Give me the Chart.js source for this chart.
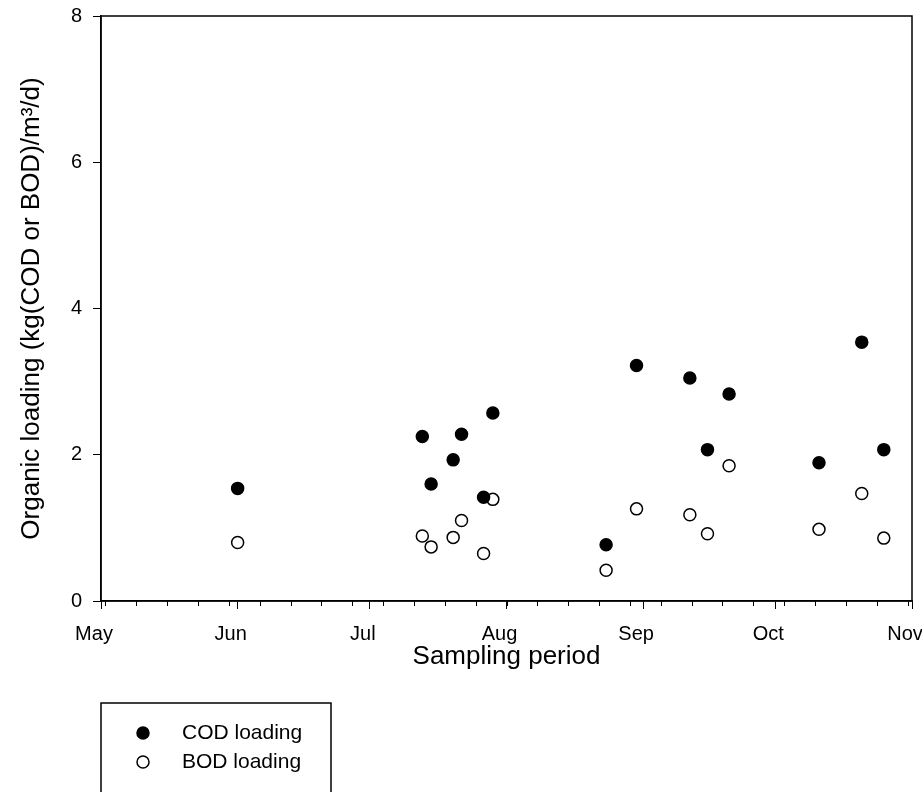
<!DOCTYPE html>
<html>
<head>
<meta charset="utf-8">
<script src="https://cdn.jsdelivr.net/npm/chart.js@4.4.1/dist/chart.umd.min.js"></script>
<style>
  html, body { margin: 0; padding: 0; background: #fff; }
  #chart { display: block; }
</style>
</head>
<body>
<canvas id="chart" width="922" height="792"></canvas>
<script>
// days counted from May 1
const sampleDays = [31.0, 72.9, 74.9, 79.9, 81.8, 86.8, 88.9, 114.6, 121.5, 133.6, 137.6, 142.5, 162.9, 172.6, 177.6];
const codLoading = [1.54, 2.25, 1.60, 1.93, 2.28, 1.42, 2.57, 0.77, 3.22, 3.05, 2.07, 2.83, 1.89, 3.54, 2.07];
const bodLoading = [0.80, 0.89, 0.74, 0.87, 1.10, 0.65, 1.39, 0.42, 1.26, 1.18, 0.92, 1.85, 0.98, 1.47, 0.86];

const monthLabels = ['May', 'Jun', 'Jul', 'Aug', 'Sep', 'Oct', 'Nov'];
const monthStarts = [0, 31, 61, 92, 123, 153, 184];
const yTicks = [0, 2, 4, 6, 8];
const firstWeekTick = 1;

const FONT = 'Liberation Sans, Arial, sans-serif';

const toPoints = (vals) => sampleDays.map((d, i) => ({ x: d, y: vals[i] }));

const framePlugin = {
  id: 'frame',
  afterDraw(chart) {
    const { ctx, chartArea: a, scales } = chart;
    const x = scales.x;
    ctx.save();
    ctx.strokeStyle = '#000';
    ctx.lineWidth = 1.5;
    ctx.strokeRect(a.left, a.top, a.right - a.left, a.bottom - a.top);

    // weekly minor ticks
    ctx.lineWidth = 1;
    ctx.beginPath();
    for (let d = firstWeekTick; d <= x.max; d += 7) {
      const px = Math.round(x.getPixelForValue(d)) + 0.5;
      ctx.moveTo(px, a.bottom);
      ctx.lineTo(px, a.bottom + 5);
    }
    ctx.stroke();

    // axis titles
    ctx.fillStyle = '#000';
    ctx.textAlign = 'center';
    ctx.textBaseline = 'middle';
    ctx.font = '26px ' + FONT;
    ctx.fillText('Sampling period', (a.left + a.right) / 2, 657);
    ctx.translate(32, (a.top + a.bottom) / 2);
    ctx.rotate(-Math.PI / 2);
    ctx.fillText('Organic loading (kg(COD or BOD)/m³/d)', 0, 0);
    ctx.restore();

    // legend
    ctx.save();
    ctx.strokeStyle = '#000';
    ctx.lineWidth = 1.5;
    ctx.strokeRect(101, 703, 230, 120);
    ctx.font = '21px ' + FONT;
    ctx.textBaseline = 'middle';
    ctx.textAlign = 'left';
    chart.data.datasets.forEach((ds, i) => {
      const cy = 733 + i * 29;
      ctx.beginPath();
      ctx.arc(143, cy, ds.pointRadius, 0, Math.PI * 2);
      ctx.fillStyle = ds.pointBackgroundColor;
      ctx.fill();
      ctx.lineWidth = ds.pointBorderWidth;
      ctx.strokeStyle = ds.pointBorderColor;
      ctx.stroke();
      ctx.fillStyle = '#000';
      ctx.fillText(ds.label, 182, cy);
    });
    ctx.restore();
  }
};

new Chart(document.getElementById('chart'), {
  type: 'scatter',
  data: {
    datasets: [
      {
        label: 'COD loading',
        data: toPoints(codLoading),
        pointRadius: 6,
        pointBackgroundColor: '#000',
        pointBorderColor: '#000',
        pointBorderWidth: 1.5,
      },
      {
        label: 'BOD loading',
        data: toPoints(bodLoading),
        pointRadius: 6,
        pointBackgroundColor: '#fff',
        pointBorderColor: '#000',
        pointBorderWidth: 1.5,
      },
    ],
  },
  options: {
    responsive: false,
    animation: false,
    devicePixelRatio: 1,
    layout: { padding: { left: 0, top: 16, right: 10, bottom: 0 } },
    plugins: {
      legend: { display: false },
      tooltip: { enabled: false },
    },
    scales: {
      x: {
        type: 'linear',
        min: 0,
        max: 184,
        afterBuildTicks: (scale) => {
          scale.ticks = monthStarts.map((v) => ({ value: v }));
        },
        afterFit: (scale) => {
          scale.height = 191;
          scale.paddingLeft = 0;
          scale.paddingRight = 0;
        },
        ticks: {
          autoSkip: false,
          maxRotation: 0,
          padding: 13,
          labelOffset: -7,
          color: '#000',
          font: { family: FONT, size: 20 },
          callback: (v) => monthLabels[monthStarts.indexOf(v)],
        },
        grid: { drawOnChartArea: false, tickLength: 8, color: '#000', lineWidth: 1 },
        border: { color: '#000', width: 1.5 },
      },
      y: {
        min: 0,
        max: 8,
        afterBuildTicks: (scale) => {
          scale.ticks = yTicks.map((v) => ({ value: v }));
        },
        afterFit: (scale) => {
          scale.width = 101;
          scale.paddingTop = 0;
          scale.paddingBottom = 0;
        },
        ticks: {
          padding: 11,
          color: '#000',
          font: { family: FONT, size: 20 },
        },
        grid: { drawOnChartArea: false, tickLength: 8, color: '#000', lineWidth: 1 },
        border: { color: '#000', width: 1.5 },
      },
    },
  },
  plugins: [framePlugin],
});
</script>
</body>
</html>
